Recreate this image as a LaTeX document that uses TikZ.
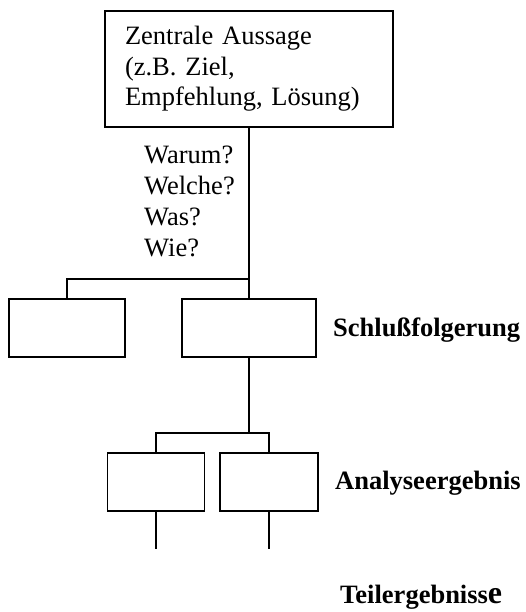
\documentclass[tikz,border=0pt]{standalone}
\usepackage{fontspec}
\setmainfont{Liberation Serif}
\usetikzlibrary{positioning}
\tikzset{
  mainbox/.style={draw,line width=1.6pt,minimum width=288pt,minimum height=116pt,text width=248pt,align=left,inner sep=0pt},
  emptybox/.style={draw,line width=1.6pt,minimum height=58pt,inner sep=0pt},
  questions/.style={align=left,anchor=west,inner sep=0pt},
  levellabel/.style={anchor=base west,inner sep=0pt,font=\fontsize{26.5}{31}\selectfont\bfseries},
  link/.style={line width=1.6pt}
}

\begin{document}
\begin{tikzpicture}[
  x=1pt,y=-1pt,
  every node/.style={font=\fontsize{26.5}{30.5}\selectfont}
]
\useasboundingbox (0,0) rectangle (525,612);

\node[mainbox] (zentral) at (249,69) {Zentrale Aussage\\(z.B. Ziel,\\Empfehlung, Lösung)};
\node[questions,font=\fontsize{26.5}{31}\selectfont] (fragen) at (144,201) {Warum?\\Welche?\\Was?\\Wie?};

\node[emptybox,minimum width=116pt] (sf1) at (67,328) {};
\node[emptybox,minimum width=134pt] (sf2) at (249,328) {};
\node[emptybox,minimum width=97pt] (ae1) at (156,482) {};
\node[emptybox,minimum width=98pt] (ae2) at (269,482) {};

\node[levellabel] (schluss) at (333,336) {Schlußfolgerung};
\node[levellabel] (analyse) at (335,489) {Analyseergebnis};
\node[levellabel] (teil) at (340,603) {Teilergebniss{\fontsize{32}{32}\selectfont e}};

\coordinate (gabel1) at (249,279);
\coordinate (gabel2) at (249,433);
\coordinate[below=37pt of ae1] (te1);
\coordinate[below=37pt of ae2] (te2);

\draw[link] (zentral.south) -- (sf2.north);
\draw[link] (sf1.north) |- (gabel1);
\draw[link] (sf2.south) -- (gabel2);
\draw[link] (ae1.north) |- (ae2.north |- gabel2) -- (ae2.north);
\draw[link] (ae1.south) -- (te1);
\draw[link] (ae2.south) -- (te2);
\end{tikzpicture}
\end{document}
